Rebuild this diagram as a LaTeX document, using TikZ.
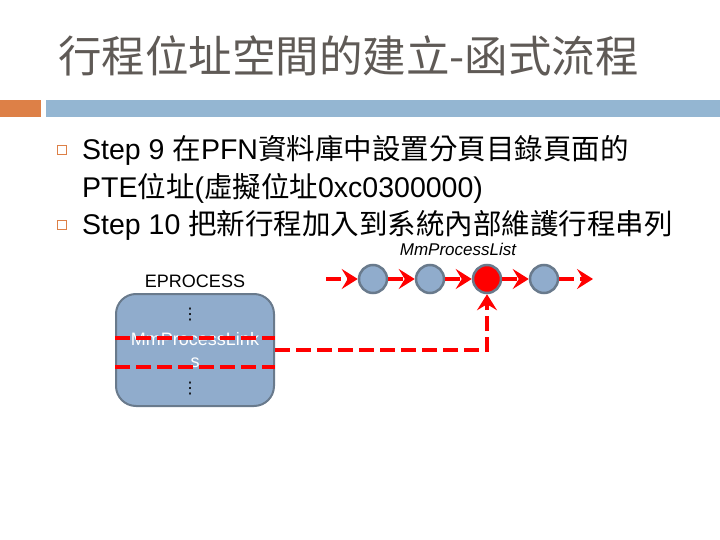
\documentclass[tikz,border=0pt]{standalone}
\usepackage{fontspec}
\setmainfont{Liberation Sans}
\newfontfamily\cjk{Noto Sans CJK TC}
\newfontfamily\dotsfont{DejaVu Sans}
\usetikzlibrary{positioning,arrows.meta}

\definecolor{barorange}{RGB}{221,128,71}
\definecolor{barblue}{RGB}{148,182,210}
\definecolor{nodeblue}{RGB}{144,172,204}
\definecolor{nodeedge}{RGB}{105,122,140}
\definecolor{titlegray}{RGB}{95,90,86}

\begin{document}
\begin{tikzpicture}[
    x=1pt,y=-1pt,
    listnode/.style={
        circle,draw=nodeedge,line width=2.5pt,
        fill=nodeblue,minimum size=28pt,inner sep=0pt
    },
    redlink/.style={red,line width=4.5pt,dash pattern=on 15pt off 6pt},
    redarrow/.style={
        redlink,
        -{Stealth[length=16pt,width=20pt,inset=6pt]}
    },
    bulletbox/.style={
        draw=barorange,line width=1pt,
        minimum size=9pt,inner sep=0pt
    },
    steptext/.style={
        anchor=base west,inner sep=0pt,
        font=\fontsize{28.5}{34}\selectfont
    }
]
    \useasboundingbox (0,0) rectangle (720,540);
    \node[anchor=base west,inner sep=0pt,text=titlegray,
        font=\cjk\fontsize{43.5}{48}\selectfont] (title) at (58,73)
        {行程位址空間的建立-函式流程};
    \fill[barorange] (0,100) rectangle (41,117);
    \fill[barblue] (46,100) rectangle (720,117);

    \node[bulletbox] (bullet1) at (61.5,150) {};
    \node[bulletbox] (bullet2) at (61.5,225) {};
    \node[steptext] (step9) at (82,160)
        {Step 9 {\cjk 在}PFN{\cjk 資料庫中設置分頁目錄頁面的}};
    \node[steptext] (pte) at (82,197)
        {PTE{\cjk 位址}({\cjk 虛擬位址}0xc0300000)};
    \node[steptext] (step10) at (82,234)
        {Step 10 {\cjk 把新行程加入到系統內部維護行程串列}};

    \begin{scope}[
        font=\fontsize{18}{22}\selectfont
    ]
        \node[
            draw=nodeedge,line width=2pt,fill=nodeblue,
            rounded corners=20pt,minimum width=158pt,minimum height=112pt,
            text=white,align=center
        ] (eproc) at (195,350) {MmProcessLink\\s};
        \node[above=2pt of eproc] (eproclabel) {EPROCESS};
        \node[font=\dotsfont\fontsize{16}{16}\selectfont] (dotstop) at (190,315) {⋮};
        \node[font=\dotsfont\fontsize{16}{16}\selectfont] (dotsbottom) at (190,389) {⋮};
        \draw[redlink] ([yshift=12pt]eproc.west) -- ([yshift=12pt]eproc.east);
        \draw[redlink] ([yshift=-17pt]eproc.west) -- ([yshift=-17pt]eproc.east);

        \node[listnode] (c1) at (373,279) {};
        \node[listnode] (c2) at (430,279) {};
        \node[listnode,fill=red] (c3) at (487,279) {};
        \node[listnode] (c4) at (544,279) {};
        \node[font=\itshape\fontsize{17}{20}\selectfont] (listlabel) at (458,249)
            {MmProcessList};
        \coordinate (listin) at (326,279);
        \coordinate (listout) at (593,279);

        \draw[redarrow] (listin) -- (c1);
        \draw[redarrow] (c1) -- (c2);
        \draw[redarrow] (c2) -- (c3);
        \draw[redarrow] (c3) -- (c4);
        \draw[redarrow] (c4) -- (listout);
        \draw[redarrow] (eproc.east) -| (c3.south);
    \end{scope}
\end{tikzpicture}
\end{document}
